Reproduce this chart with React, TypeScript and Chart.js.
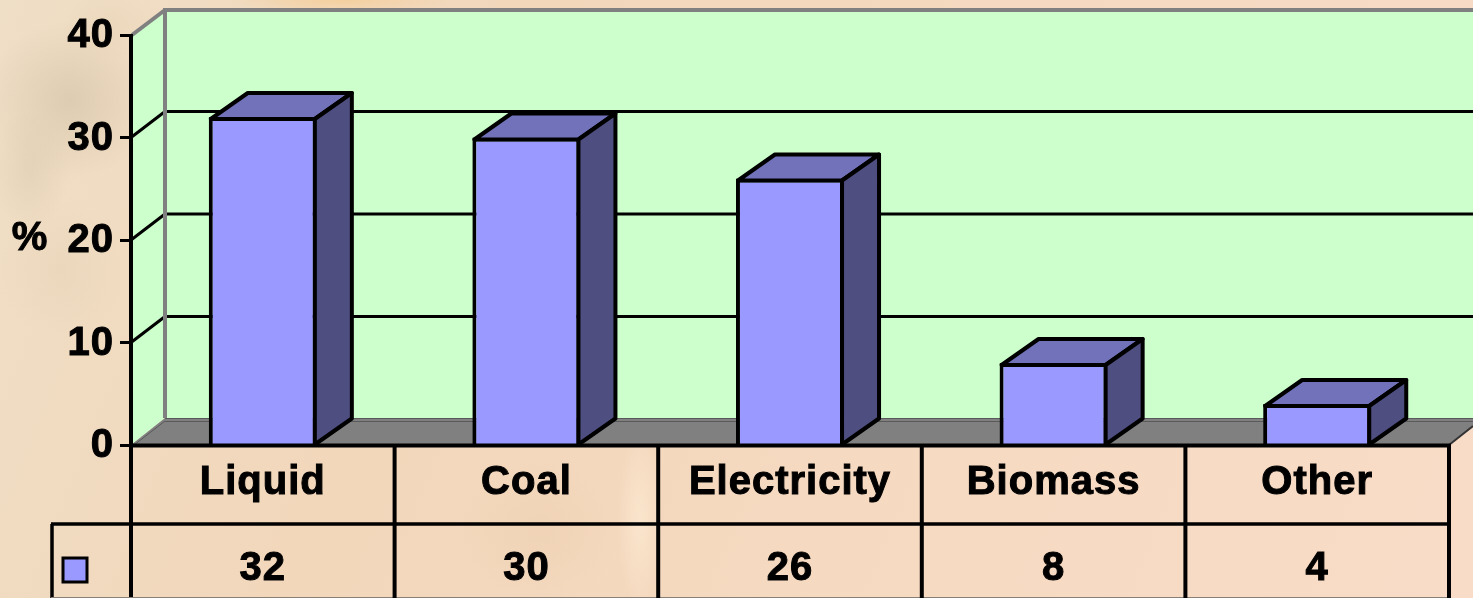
import React, { useEffect, useRef } from "react";
import { Chart, registerables } from "chart.js";

Chart.register(...registerables);

const categories = ["Liquid", "Coal", "Electricity", "Biomass", "Other"];
const shares = [32, 30, 26, 8, 4];
const yTicks = [0, 10, 20, 30, 40];

const FONT = '"Liberation Sans", Arial, sans-serif';
const DX = 37;
const DY = -26;
const WALL_DX = 34;

function poly(ctx: CanvasRenderingContext2D, pts: number[][]) {
  ctx.beginPath();
  pts.forEach((p, i) => (i ? ctx.lineTo(p[0], p[1]) : ctx.moveTo(p[0], p[1])));
  ctx.closePath();
}

function line(ctx: CanvasRenderingContext2D, x1: number, y1: number, x2: number, y2: number, color: string, w: number) {
  ctx.strokeStyle = color;
  ctx.lineWidth = w;
  ctx.beginPath();
  ctx.moveTo(x1, y1);
  ctx.lineTo(x2, y2);
  ctx.stroke();
}

function blob(ctx: CanvasRenderingContext2D, x: number, y: number, rx: number, ry: number, rgb: string, a: number) {
  ctx.save();
  ctx.translate(x, y);
  ctx.scale(rx, ry);
  const g = ctx.createRadialGradient(0, 0, 0, 0, 0, 1);
  g.addColorStop(0, `rgba(${rgb},${a})`);
  g.addColorStop(1, `rgba(${rgb},0)`);
  ctx.fillStyle = g;
  ctx.fillRect(-1, -1, 2, 2);
  ctx.restore();
}

function boldText(ctx: CanvasRenderingContext2D, s: string, x: number, y: number) {
  ctx.strokeText(s, x, y);
  ctx.fillText(s, x, y);
}

const scenePlugin = {
  id: "scene",
  beforeDraw(chart: any) {
    const { ctx, chartArea: a, scales, width, height } = chart;
    const y = scales.y;
    ctx.save();
    // backdrop
    const bg = ctx.createLinearGradient(0, 0, width, height);
    bg.addColorStop(0, "#EFDFC6");
    bg.addColorStop(0.3, "#F2D7BB");
    bg.addColorStop(1, "#F9DCC7");
    ctx.fillStyle = bg;
    ctx.fillRect(0, 0, width, height);
    blob(ctx, 70, 100, 85, 80, "195,178,150", 0.4);
    blob(ctx, 30, 170, 40, 60, "205,188,160", 0.3);
    blob(ctx, 60, 270, 60, 70, "220,200,170", 0.25);
    blob(ctx, 110, 25, 50, 35, "228,208,178", 0.4);
    blob(ctx, 340, 0, 110, 14, "245,205,150", 0.8);
    blob(ctx, 640, 520, 22, 90, "255,240,215", 0.55);
    blob(ctx, 540, 530, 80, 70, "235,205,170", 0.4);

    const back = a.left + WALL_DX;
    const wallTop = a.top + DY + 1;
    const floorTop = a.bottom + DY - 1;
    // back wall + side wall
    ctx.fillStyle = "#CCFFCC";
    ctx.fillRect(back, wallTop, width - back, floorTop - wallTop);
    poly(ctx, [[a.left, a.top], [back, wallTop], [back, floorTop], [a.left, a.bottom]]);
    ctx.fill();
    // floor
    ctx.fillStyle = "#808080";
    poly(ctx, [[a.left, a.bottom], [back, floorTop], [width, floorTop], [width, a.bottom - 18], [a.right, a.bottom]]);
    ctx.fill();
    line(ctx, back, floorTop + 0.5, width, floorTop + 0.5, "#5A5A5A", 1);
    line(ctx, back, floorTop + 3.5, width, floorTop + 3.5, "#5A5A5A", 1);
    line(ctx, a.left + 3, a.bottom, back, floorTop + 3, "#5A5A5A", 1);
    // grid on walls
    yTicks.filter((t) => t > 0 && t < 40).forEach((t) => {
      const py = y.getPixelForValue(t);
      line(ctx, a.left, py, back, py + DY, "#000", 3);
      line(ctx, back, py + DY, width, py + DY, "#000", 3);
    });
    // wall frame
    line(ctx, back, wallTop, width, wallTop, "#808080", 4);
    line(ctx, back, wallTop - 2, back, floorTop, "#808080", 4);
    line(ctx, a.left + 1, a.top, back, wallTop, "#808080", 4);
    line(ctx, a.left, a.top - 1, a.left, height, "#000", 4);
    ctx.restore();
    (ctx as any).letterSpacing = "1px";
  },
  afterDatasetsDraw(chart: any) {
    const { ctx } = chart;
    ctx.save();
    ctx.strokeStyle = "#000";
    ctx.lineWidth = 4;
    ctx.lineJoin = "round";
    chart.getDatasetMeta(0).data.forEach((bar: any) => {
      const l = bar.x - bar.width / 2 + 2;
      const r = bar.x + bar.width / 2 - 2;
      const t = bar.y + 2;
      const b = bar.base;
      poly(ctx, [[l, t], [l + DX, t + DY], [r + DX, t + DY], [r, t]]);
      ctx.fillStyle = "#7272BA";
      ctx.fill();
      ctx.stroke();
      poly(ctx, [[r, t], [r + DX, t + DY], [r + DX, b + DY], [r, b]]);
      ctx.fillStyle = "#4E4E80";
      ctx.fill();
      ctx.stroke();
    });
    ctx.restore();
  },
  afterDraw(chart: any) {
    const { ctx, chartArea: a, scales, width, height } = chart;
    const x = scales.x;
    const row = 524;
    ctx.save();
    // floor's front right edge
    line(ctx, a.right, a.bottom, width, a.bottom - 19, "#333", 2);
    // table frame
    line(ctx, a.left - 2, 445.5, a.right + 2, 445.5, "#000", 4);
    line(ctx, 51, row, a.right + 2, row, "#000", 3.5);
    line(ctx, 52, row, 52, height, "#000", 3.5);
    line(ctx, 51, height - 0.5, a.right + 2, height - 0.5, "#8A7F75", 1);
    categories.forEach((_, i) => {
      const edge = x.getPixelForValue(i) + (x.getPixelForValue(1) - x.getPixelForValue(0)) / 2;
      line(ctx, edge, a.bottom, edge, height, "#000", 4);
    });
    // value row
    ctx.fillStyle = "#000";
    ctx.strokeStyle = "#000";
    ctx.lineWidth = 1;
    ctx.font = `bold 40px ${FONT}`;
    ctx.textAlign = "center";
    ctx.textBaseline = "middle";
    shares.forEach((v, i) => boldText(ctx, String(v), x.getPixelForValue(i), 569));
    // legend key
    ctx.fillStyle = "#9999FF";
    ctx.fillRect(63, 558, 24, 24);
    ctx.strokeStyle = "#000";
    ctx.lineWidth = 3;
    ctx.strokeRect(63, 558, 24, 24);
    // unit label
    ctx.fillStyle = "#000";
    ctx.lineWidth = 1;
    boldText(ctx, "%", 30, 239);
    ctx.restore();
  },
};

export default function App() {
  const ref = useRef<HTMLCanvasElement>(null);
  useEffect(() => {
    document.body.style.margin = "0";
    document.body.style.overflow = "hidden";
    const tickFont = { family: FONT, size: 40, weight: "bold" };
    const chart = new Chart(ref.current!, {
      type: "bar",
      data: {
        labels: categories,
        datasets: [
          {
            data: shares,
            backgroundColor: "#9999FF",
            borderColor: "#000",
            borderWidth: 4,
            borderSkipped: "bottom",
            barPercentage: 0.41,
            categoryPercentage: 1,
          },
        ],
      },
      options: {
        responsive: false,
        animation: false,
        layout: { padding: { top: 35, right: 24, bottom: 0, left: 0 } },
        plugins: { legend: { display: false }, tooltip: { enabled: false } },
        scales: {
          x: {
            offset: true,
            grid: { display: false, drawTicks: false },
            border: { display: false },
            afterFit: (s: any) => {
              s.height = 153;
            },
            ticks: {
              color: "#000",
              padding: 14,
              maxRotation: 0,
              autoSkip: false,
              font: tickFont,
              textStrokeColor: "#000",
              textStrokeWidth: 1,
            },
          },
          y: {
            min: 0,
            max: 40,
            afterFit: (s: any) => {
              s.width = 131;
            },
            afterBuildTicks: (s: any) => {
              s.ticks = yTicks.map((value) => ({ value }));
            },
            border: { display: false },
            grid: { drawOnChartArea: false, tickLength: 11, tickColor: "#000", tickWidth: 3, color: "#000" },
            ticks: {
              color: "#000",
              padding: 6,
              labelOffset: 1,
              font: tickFont,
              textStrokeColor: "#000",
              textStrokeWidth: 1,
            },
          },
        },
      },
      plugins: [scenePlugin],
    } as any);
    return () => chart.destroy();
  }, []);
  return <canvas ref={ref} width={1473} height={598} style={{ display: "block" }} />;
}
